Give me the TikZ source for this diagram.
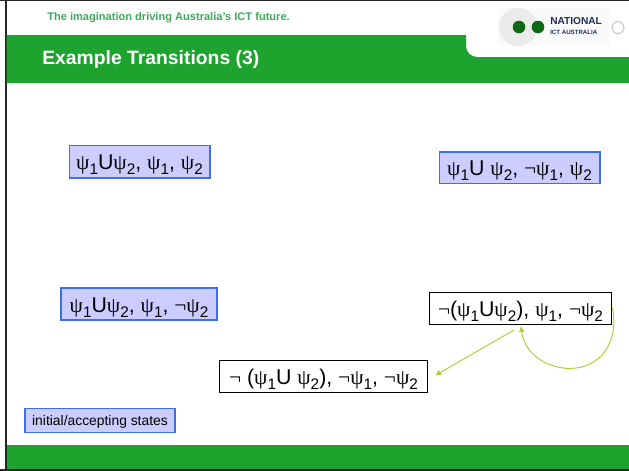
\documentclass[tikz,border=0pt]{standalone}
\usepackage{fontspec}
\setmainfont{Liberation Sans}
\newfontfamily\symf{Liberation Serif}
\usetikzlibrary{arrows.meta}
\definecolor{barg}{HTML}{1EA32E}
\definecolor{stfill}{HTML}{CCCCFF}
\definecolor{stline}{HTML}{3F6FE8}
\definecolor{arr}{HTML}{A8D030}
\definecolor{tag}{HTML}{3DAA5A}
\definecolor{navy}{HTML}{1F2F55}
\definecolor{logog}{HTML}{0B6A12}
\newcommand{\psy}{{\symf ψ}}
\newcommand{\nt}{{\symf ¬}}
\newcommand{\sbs}[1]{\raisebox{-0.24em}{\fontsize{11.5}{12}\selectfont #1}}
\tikzset{
  x=0.75pt,y=-0.75pt,
  statebox/.style={draw=black,line width=0.75pt,fill=white,text=black,inner sep=0pt,font=\fontsize{16}{19}\selectfont,text height=12.4pt,text depth=0pt},
  initbox/.style={statebox,draw=stline,line width=1pt,fill=stfill},
  edge/.style={draw=arr,line width=0.7pt,-{Latex[length=4.5pt,width=4.5pt]}}
}
\begin{document}
\begin{tikzpicture}
\useasboundingbox (0,0) rectangle (629,471);
\fill[white] (0,0) rectangle (629,471);
% frame
\fill[black!85] (0,0) rectangle (629,1.3);
\fill[black!85] (4.5,0) rectangle (6.5,471);
\fill[black!85] (0,469) rectangle (629,471);
% bars
\fill[barg] (6.5,35) -- (466,35) -- (466,46) arc[start angle=180,end angle=90,radius=11] -- (629,57) -- (629,83) -- (6.5,83) -- cycle;
\fill[barg] (6.5,445) rectangle (629,469);
% header
\node[text=tag,font=\fontsize{8.3}{10}\selectfont\bfseries,anchor=west,inner sep=0pt] (tagline) at (47,17.5) {The imagination driving Australia's ICT future.};
\node[text=white,font=\fontsize{14.5}{17}\selectfont\bfseries,anchor=west,inner sep=0pt] (title) at (42,59.5) {Example Transitions (3)};
% logo
\fill[black!2] (498,8) rectangle (610,45);
\fill[black!8] (518,27) circle[radius=19];
\fill[logog] (519,27) circle[radius=6.3];
\fill[logog] (538,27) circle[radius=6.3];
\draw[black!25,line width=0.7pt] (618,27.5) circle[radius=6];
\node[text=navy,font=\fontsize{7.6}{8}\selectfont\bfseries,anchor=west,inner sep=0pt] (logoa) at (550,21.5) {NATIONAL};
\node[text=navy,font=\fontsize{4.6}{5}\selectfont\bfseries,anchor=west,inner sep=0pt] (logob) at (550,32) {ICT AUSTRALIA};
% states
\node[initbox,minimum width=105.5pt,minimum height=24.5pt] (a) at (139.5,161.5) {\psy\sbs{1}U\psy\sbs{2}, \psy\sbs{1}, \psy\sbs{2}};
\node[initbox,minimum width=120.5pt,minimum height=23.5pt] (b) at (519.5,167.5) {\psy\sbs{1}U \psy\sbs{2}, \nt\psy\sbs{1}, \psy\sbs{2}};
\node[initbox,minimum width=117pt,minimum height=24pt] (c) at (139,304) {\psy\sbs{1}U\psy\sbs{2}, \psy\sbs{1}, \nt\psy\sbs{2}};
\node[statebox,minimum width=137pt,minimum height=24pt] (d) at (520.5,308) {\nt(\psy\sbs{1}U\psy\sbs{2}), \psy\sbs{1}, \nt\psy\sbs{2}};
\node[statebox,minimum width=156.5pt,minimum height=24.5pt] (e) at (323.5,376.5) {\nt\ (\psy\sbs{1}U \psy\sbs{2}), \nt\psy\sbs{1}, \nt\psy\sbs{2}};
\node[initbox,font=\fontsize{10.4}{12}\selectfont,text height=8.2pt,minimum width=112.5pt,minimum height=18pt] (legend) at (100,420.5) {initial/accepting states};
% connectors
\coordinate (dout) at (514,330);
\coordinate (ein) at (435,375.5);
\coordinate (dloopa) at (612.5,308);
\coordinate (dloopb) at (521,326);
\draw[edge] (dout) -- (ein);
\draw[edge] (dloopa) .. controls (619,342) and (601,368) .. (570,368.5) .. controls (544,368) and (524,352) .. (dloopb);
\end{tikzpicture}
\end{document}
